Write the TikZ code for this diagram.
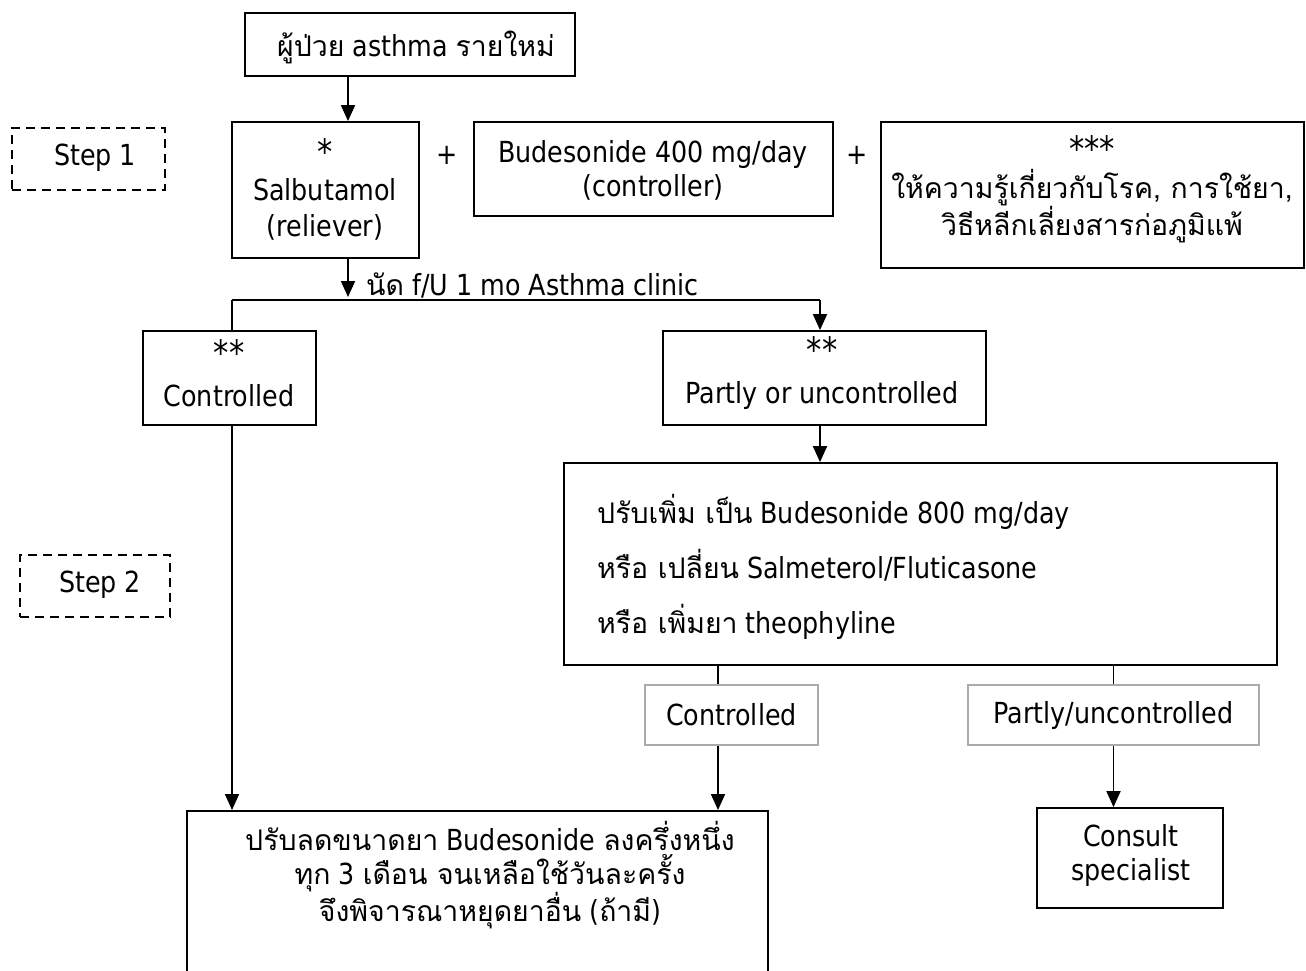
\documentclass[tikz,border=0pt]{standalone}
\usepackage{fontspec}
\setmainfont{DejaVu Sans}[FakeStretch=0.875]
\newfontfamily\thf[Script=Thai,Scale=0.98]{Loma}
\usetikzlibrary{arrows.meta}
\newcommand{\bigast}[1]{{\fontsize{35}{35}\selectfont #1}}
\begin{document}
\begin{tikzpicture}[x=1pt,y=-1pt,
  box/.style={draw, line width=1.8pt, inner sep=0pt},
  gbox/.style={draw=black!33, line width=1.8pt, inner sep=0pt},
  dbox/.style={draw, line width=1.8pt, dash pattern=on 9pt off 6pt, inner sep=0pt},
  txt/.style={align=center, inner sep=0pt, font=\fontsize{29}{35}\selectfont},
  ln/.style={line width=1.8pt},
  arr/.style={line width=1.8pt, -{Triangle[length=16pt,width=14pt]}}]
\clip (0,0) rectangle (1306,970);
% boxes
\node[box, minimum width=330pt, minimum height=63pt] (top) at (410,44.5) {};
\node[txt] (ttop) at (416,47) {{\thf ผู้ป่วย} asthma {\thf รายใหม่}};
\node[dbox, minimum width=153pt, minimum height=62pt] (s1) at (88.5,159) {};
\node[txt] (ts1) at (95,158) {Step 1};
\node[box, minimum width=187pt, minimum height=136pt] (sal) at (325.5,190) {};
\node[txt, font=\fontsize{29}{36}\selectfont] (tsal) at (325,189) {\bigast{*}\\Salbutamol\\(reliever)};
\node[txt] (p1) at (447,155) {+};
\node[box, minimum width=359pt, minimum height=94pt] (bud) at (653.5,169) {};
\node[txt, font=\fontsize{29}{34}\selectfont] (tbud) at (653,170) {Budesonide 400 mg/day\\(controller)};
\node[txt] (p2) at (857,155) {+};
\node[box, minimum width=423pt, minimum height=146pt] (edu) at (1092.5,195) {};
\node[txt, font=\fontsize{29}{37}\selectfont] (tedu) at (1092,189) {\bigast{***}\\{\thf ให้ความรู้เกี่ยวกับโรค, การใช้ยา,}\\{\thf วิธีหลีกเลี่ยงสารก่อภูมิแพ้}};
\node[box, minimum width=173pt, minimum height=94pt] (c1) at (229.5,378) {};
\node[txt, font=\fontsize{29}{41}\selectfont] (tc1) at (229,373) {\bigast{**}\\Controlled};
\node[box, minimum width=323pt, minimum height=94pt] (pc) at (824.5,378) {};
\node[txt, font=\fontsize{29}{41}\selectfont] (tpc) at (822,373) {\bigast{**}\\Partly or uncontrolled};
\node[box, minimum width=713pt, minimum height=202pt] (big) at (920.5,564) {};
\node[txt, align=left, anchor=west, font=\fontsize{29}{55}\selectfont] (tbig) at (597,567) {{\thf ปรับเพิ่ม เป็น} Budesonide 800 mg/day\\{\thf หรือ เปลี่ยน} Salmeterol/Fluticasone\\{\thf หรือ เพิ่มยา} theophyline};
\node[dbox, minimum width=150pt, minimum height=62pt] (s2) at (95,586) {};
\node[txt] (ts2) at (100,585) {Step 2};
\node[gbox, minimum width=173pt, minimum height=60pt] (gc) at (731.5,715) {};
\node[txt] (tgc) at (731.5,715) {Controlled};
\node[gbox, minimum width=291pt, minimum height=60pt] (gp) at (1113.5,715) {};
\node[txt] (tgp) at (1113.5,715) {Partly/uncontrolled};
\node[box, minimum width=186pt, minimum height=100pt] (cs) at (1130,858) {};
\node[txt, font=\fontsize{29}{34}\selectfont] (tcs) at (1131,855) {Consult\\specialist};
\node[box, minimum width=581pt, minimum height=200pt, anchor=north] (red) at (477.5,810) {};
\node[txt, font=\fontsize{29}{34}\selectfont] (tred) at (490,875) {{\thf ปรับลดขนาดยา} Budesonide {\thf ลงครึ่งหนึ่ง}\\{\thf ทุก} 3 {\thf เดือน จนเหลือใช้วันละครั้ง}\\{\thf จึงพิจารณาหยุดยาอื่น} ({\thf ถ้ามี})};
% connectors
\coordinate (j0) at (348,297);
\coordinate (jl) at (232,300);
\coordinate (jr) at (820,300);
\node[txt, anchor=west] (lfu) at (366,285) {{\thf นัด} f/U 1 mo Asthma clinic};
\draw[arr] (top.south -| j0) -- (sal.north -| j0);
\draw[arr] (sal.south -| j0) -- (j0);
\draw[ln] (jl) -- (jr);
\draw[ln] (jl) -- (c1.north -| jl);
\draw[arr] (jr) -- (pc.north -| jr);
\draw[arr] (pc.south -| jr) -- (big.north -| jr);
\draw[arr] (c1.south -| jl) -- (red.north -| jl);
\draw[ln] (big.south -| 718,0) -- (gc.north -| 718,0);
\draw[arr] (gc.south -| 718,0) -- (red.north -| 718,0);
\draw[ln] (big.south -| gp) -- (gp.north);
\draw[arr] (gp.south) -- (gp.south |- cs.north);
\end{tikzpicture}
\end{document}
